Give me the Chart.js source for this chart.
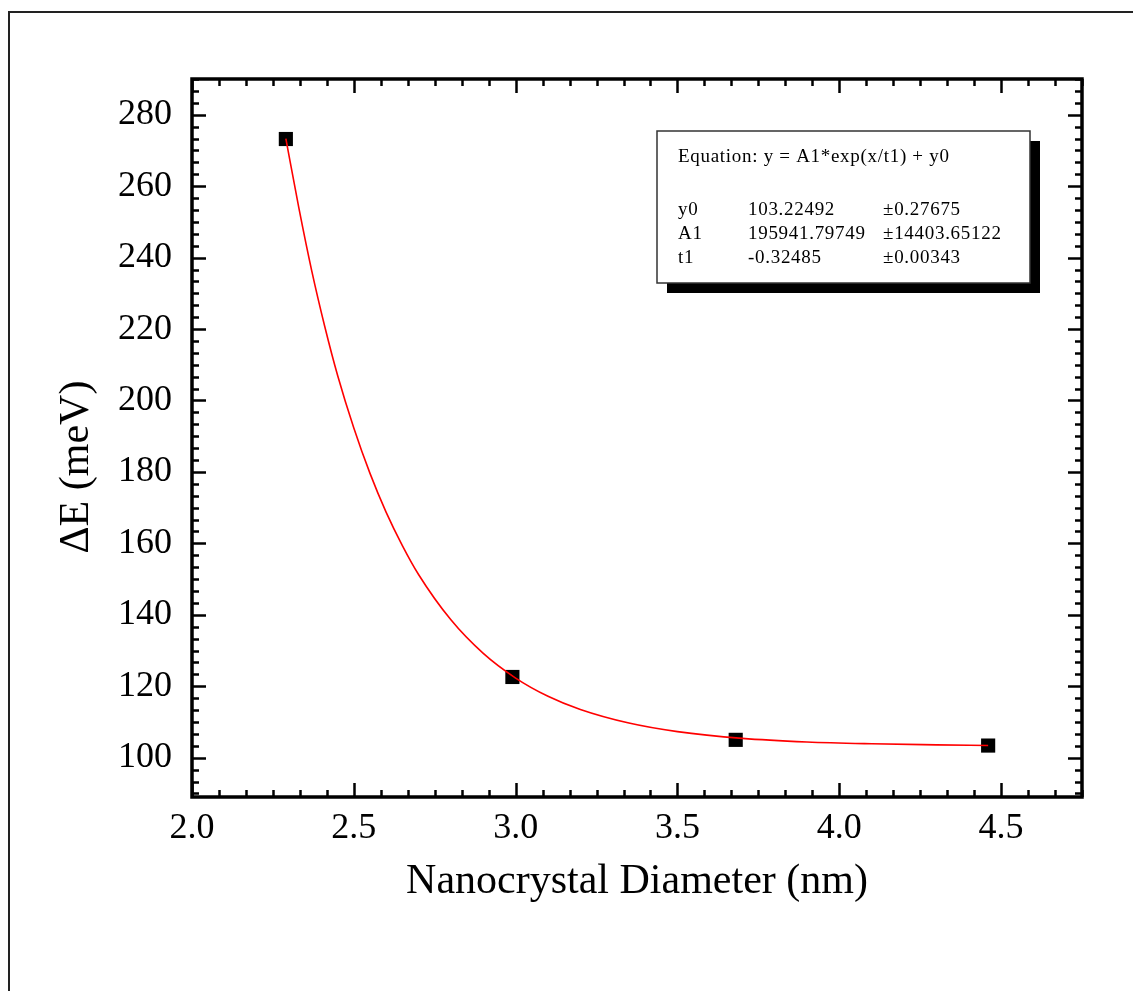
<!DOCTYPE html>
<html>
<head>
<meta charset="utf-8">
<title>ΔE vs Nanocrystal Diameter</title>
<script src="https://cdn.jsdelivr.net/npm/chart.js@4.4.1/dist/chart.umd.min.js"></script>
<style>
  html, body { margin: 0; padding: 0; background: #ffffff; }
  canvas { display: block; }
</style>
</head>
<body>
<canvas id="chart" width="1133" height="991"></canvas>
<script>
// Measured points
const diameters = [2.29, 2.99, 3.68, 4.46];
const deltaE = [273.2, 122.6, 105.0, 103.4];

// Fitted curve, sampled along its length
const fitDiameters = [2.29, 2.33, 2.37, 2.41, 2.45, 2.50, 2.55, 2.60, 2.65, 2.70, 2.80, 2.90, 3.00, 3.10, 3.20, 3.35, 3.50, 3.70, 3.90, 4.10, 4.30, 4.46];
const fitDeltaE    = [273.3, 254.0, 236.3, 220.8, 207.0, 192.3, 179.6, 168.7, 159.4, 151.3, 138.6, 129.2, 122.3, 117.2, 113.5, 109.7, 107.3, 105.4, 104.4, 103.9, 103.6, 103.4];

// Axis tick labels
const xTickValues = [2.0, 2.5, 3.0, 3.5, 4.0, 4.5];
const yTickValues = [100, 120, 140, 160, 180, 200, 220, 240, 260, 280];

// Axis titles
const xTitle = 'Nanocrystal Diameter (nm)';
const yTitle = 'ΔE (meV)';

// Fit report
const equationText = 'Equation: y = A1*exp(x/t1) + y0';
const paramNames  = ['y0', 'A1', 't1'];
const paramValues = ['103.22492', '195941.79749', '-0.32485'];
const paramErrors = ['±0.27675', '±14403.65122', '±0.00343'];

const SERIF = '"Liberation Serif", "Times New Roman", serif';

// Page frame, axis box with inward major/minor ticks, y title and the fit report box
const framePlugin = {
  id: 'originFrame',
  beforeDraw(chart) {
    const ctx = chart.ctx;
    ctx.save();
    ctx.fillStyle = '#ffffff';
    ctx.fillRect(0, 0, chart.width, chart.height);
    ctx.strokeStyle = '#222222';
    ctx.lineWidth = 2;
    ctx.beginPath();
    ctx.moveTo(9, chart.height);
    ctx.lineTo(9, 12);
    ctx.lineTo(chart.width, 12);
    ctx.stroke();
    ctx.restore();
  },
  afterDraw(chart) {
    const ctx = chart.ctx;
    const a = chart.chartArea;
    const xs = chart.scales.x, ys = chart.scales.y;
    ctx.save();
    ctx.strokeStyle = '#000000';
    ctx.lineCap = 'butt';

    // ticks
    ctx.lineWidth = 2.5;
    const major = 14, minor = 7;
    const xStep = 0.5 / 6;
    for (let i = 0; ; i++) {
      const v = xs.min + i * xStep;
      if (v > xs.max + 1e-9) break;
      const isMajor = i % 6 === 0;
      const len = isMajor ? major : minor;
      const px = Math.round(xs.getPixelForValue(v)) + 0.5;
      ctx.beginPath();
      ctx.moveTo(px, a.bottom); ctx.lineTo(px, a.bottom - len);
      ctx.moveTo(px, a.top); ctx.lineTo(px, a.top + len);
      ctx.stroke();
    }
    const yStep = 20 / 6;
    const yStart = yTickValues[0] - Math.floor((yTickValues[0] - ys.min) / yStep) * yStep;
    for (let i = 0; ; i++) {
      const v = yStart + i * yStep;
      if (v > ys.max + 1e-9) break;
      const k = Math.round((v - yTickValues[0]) / yStep);
      const isMajor = ((k % 6) + 6) % 6 === 0;
      const len = isMajor ? major : minor;
      const py = Math.round(ys.getPixelForValue(v)) + 0.5;
      ctx.beginPath();
      ctx.moveTo(a.left, py); ctx.lineTo(a.left + len, py);
      ctx.moveTo(a.right, py); ctx.lineTo(a.right - len, py);
      ctx.stroke();
    }

    // axis box
    ctx.lineWidth = 3.5;
    ctx.strokeRect(a.left, a.top, a.right - a.left, a.bottom - a.top);

    // y axis title, set a little below the axis middle
    ctx.save();
    ctx.translate(77, 467);
    ctx.rotate(-Math.PI / 2);
    ctx.fillStyle = '#000000';
    ctx.font = '42px ' + SERIF;
    ctx.textAlign = 'center';
    ctx.textBaseline = 'middle';
    ctx.fillText(yTitle, 0, 0);
    ctx.restore();

    // fit report with drop shadow
    const bx = 657, by = 131, bw = 373, bh = 152;
    ctx.fillStyle = '#000000';
    ctx.fillRect(bx + 10, by + 10, bw, bh);
    ctx.fillStyle = '#ffffff';
    ctx.fillRect(bx, by, bw, bh);
    ctx.strokeStyle = '#333333';
    ctx.lineWidth = 1.5;
    ctx.strokeRect(bx, by, bw, bh);

    ctx.fillStyle = '#000000';
    ctx.font = '19px ' + SERIF;
    ctx.textBaseline = 'alphabetic';
    ctx.textAlign = 'left';
    if ('letterSpacing' in ctx) ctx.letterSpacing = '0.7px';
    ctx.fillText(equationText, bx + 21, by + 31);
    const rowY = [by + 84, by + 108, by + 132];
    const colX = [bx + 21, bx + 91, bx + 226];
    for (let r = 0; r < paramNames.length; r++) {
      ctx.fillText(paramNames[r], colX[0], rowY[r]);
      ctx.fillText(paramValues[r], colX[1], rowY[r]);
      ctx.fillText(paramErrors[r], colX[2], rowY[r]);
    }
    ctx.restore();
  }
};

new Chart(document.getElementById('chart'), {
  type: 'scatter',
  data: {
    datasets: [
      {
        label: 'Fit',
        data: fitDiameters.map((x, i) => ({ x: x, y: fitDeltaE[i] })),
        showLine: true,
        borderColor: '#ff0000',
        borderWidth: 1.6,
        pointRadius: 0,
        cubicInterpolationMode: 'monotone',
        fill: false,
        order: 0
      },
      {
        label: 'ΔE',
        data: diameters.map((x, i) => ({ x: x, y: deltaE[i] })),
        showLine: false,
        pointStyle: 'rect',
        pointRadius: 10,
        backgroundColor: '#000000',
        borderColor: '#000000',
        borderWidth: 0,
        order: 1
      }
    ]
  },
  options: {
    responsive: false,
    animation: false,
    devicePixelRatio: 1,
    layout: { padding: { left: 0, top: 79, right: 51, bottom: 74 } },
    plugins: { legend: { display: false }, tooltip: { enabled: false } },
    scales: {
      x: {
        type: 'linear',
        min: 2.0,
        max: 4.75,
        grid: { display: false, drawTicks: false },
        border: { display: false },
        afterBuildTicks: s => { s.ticks = xTickValues.map(v => ({ value: v })); },
        afterFit: s => { s.height = 120; },
        ticks: {
          autoSkip: false, maxRotation: 0, padding: 10, color: '#000000',
          font: { family: SERIF, size: 36 },
          callback: v => Number(v).toFixed(1)
        },
        title: {
          display: true, text: xTitle, color: '#000000',
          font: { family: SERIF, size: 42 },
          padding: { top: 0, bottom: 10 }
        }
      },
      y: {
        type: 'linear',
        min: 89,
        max: 290,
        grid: { display: false, drawTicks: false },
        border: { display: false },
        afterBuildTicks: s => { s.ticks = yTickValues.map(v => ({ value: v })); },
        afterFit: s => { s.width = 192; },
        ticks: {
          autoSkip: false, padding: 20, color: '#000000',
          font: { family: SERIF, size: 36 },
          callback: v => String(v)
        },
        title: { display: false }
      }
    }
  },
  plugins: [framePlugin]
});
</script>
</body>
</html>
